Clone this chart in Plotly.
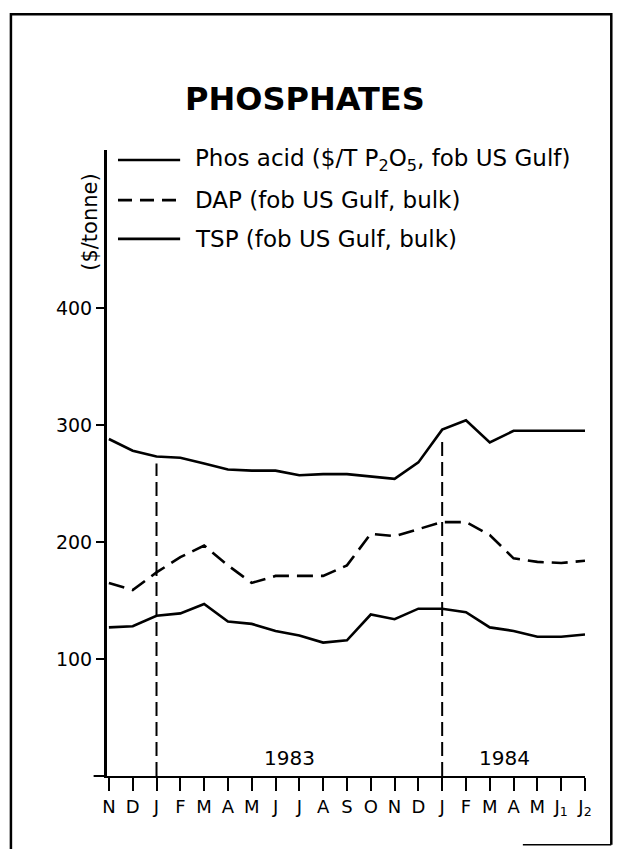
import plotly.graph_objects as go

months = ["N", "D", "J", "F", "M", "A", "M", "J", "J", "A", "S", "O", "N", "D",
          "J", "F", "M", "A", "M", "J<sub>1</sub>", "J<sub>2</sub>"]
phos_acid = [288, 278, 273, 272, 267, 262, 261, 261, 257, 258, 258, 256, 254, 268,
             296, 304, 285, 295, 295, 295, 295]
dap = [165, 159, 174, 187, 197, 180, 165, 171, 171, 171, 180, 207, 205, 211,
       217, 217, 206, 186, 183, 182, 184]
tsp = [127, 128, 137, 139, 147, 132, 130, 124, 120, 114, 116, 138, 134, 143,
       143, 140, 127, 124, 119, 119, 121]
series_names = ["Phos acid ($/T P<sub>2</sub>O<sub>5</sub>, fob US Gulf)",
                "DAP (fob US Gulf, bulk)",
                "TSP (fob US Gulf, bulk)"]
year_labels = ["1983", "1984"]
year_label_x = [7.6, 16.6]
jan_idx = [2, 14]
y_ticks = [100, 200, 300, 400]

FONT = "DejaVu Sans"
x = list(range(len(months)))

fig = go.Figure()
dashes = ["solid", "16px,8px", "solid"]
for vals, name, dash in zip([phos_acid, dap, tsp], series_names, dashes):
    fig.add_trace(go.Scatter(x=x, y=vals, mode="lines", name=name,
                             line=dict(color="black", width=2.6, dash=dash),
                             showlegend=False, hoverinfo="skip"))

shapes = []
# dashed vertical lines at January
for i in jan_idx:
    shapes.append(dict(type="line", xref="x", yref="y", x0=i, x1=i, y0=0, y1=phos_acid[i] - 6,
                       line=dict(color="black", width=2, dash="14px,6px")))

# manual legend
leg_y = [0.984, 0.920, 0.858]
for yy, dash in zip(leg_y, dashes):
    shapes.append(dict(type="line", xref="paper", yref="paper", x0=0.023, x1=0.153, y0=yy, y1=yy,
                       line=dict(color="black", width=2.6, dash=("solid" if dash == "solid" else "14px,8px"))))

# x-axis extension to the left of the y-axis
shapes.append(dict(type="line", xref="paper", yref="paper", x0=-0.028, x1=0, y0=0, y1=0,
                   line=dict(color="black", width=2)))

# frame border
shapes.append(dict(type="path", xref="paper", yref="paper",
                   path="M -0.201 -0.12 L -0.201 1.217 L 1.055 1.217 L 1.055 -0.11",
                   line=dict(color="black", width=2.5)))
shapes.append(dict(type="line", xref="paper", yref="paper", x0=0.87, x1=1.055, y0=-0.11, y1=-0.11,
                   line=dict(color="black", width=1.5)))

annotations = []
for yy, name in zip(leg_y, series_names):
    annotations.append(dict(xref="paper", yref="paper", x=0.180, y=yy, text=name, showarrow=False,
                            xanchor="left", yanchor="middle",
                            font=dict(family=FONT, size=23, color="black")))
for xx, t in zip(year_label_x, year_labels):
    annotations.append(dict(xref="x", yref="paper", x=xx, y=0.029, text=t, showarrow=False,
                            xanchor="center", yanchor="middle",
                            font=dict(family=FONT, size=20, color="black")))
annotations.append(dict(xref="paper", yref="paper", x=-0.036, y=0.885, text="($/tonne)",
                        textangle=-90, showarrow=False, xanchor="center", yanchor="middle",
                        font=dict(family=FONT, size=21, color="black")))

fig.update_layout(
    width=605, height=841,
    margin=dict(l=99, r=28, t=142, b=73),
    paper_bgcolor="white", plot_bgcolor="white",
    title=dict(text="<b>PHOSPHATES</b>", x=0.414, xanchor="center", y=0.892, yanchor="middle",
               xref="paper", font=dict(family=FONT, size=32, color="black")),
    xaxis=dict(range=[-0.08, 20], tickmode="array", tickvals=x, ticktext=months,
               showline=True, linecolor="black", linewidth=2, ticks="outside", ticklen=13,
               tickwidth=1.6, tickcolor="black", showgrid=False, zeroline=False,
               tickfont=dict(family=FONT, size=18, color="black")),
    yaxis=dict(range=[0, 535], tickmode="array", tickvals=y_ticks,
               showline=True, linecolor="black", linewidth=3, ticks="outside", ticklen=8,
               tickwidth=2, tickcolor="black", showgrid=False, zeroline=False,
               tickfont=dict(family=FONT, size=19, color="black")),
    shapes=shapes, annotations=annotations,
)

fig.write_html("out.html")
